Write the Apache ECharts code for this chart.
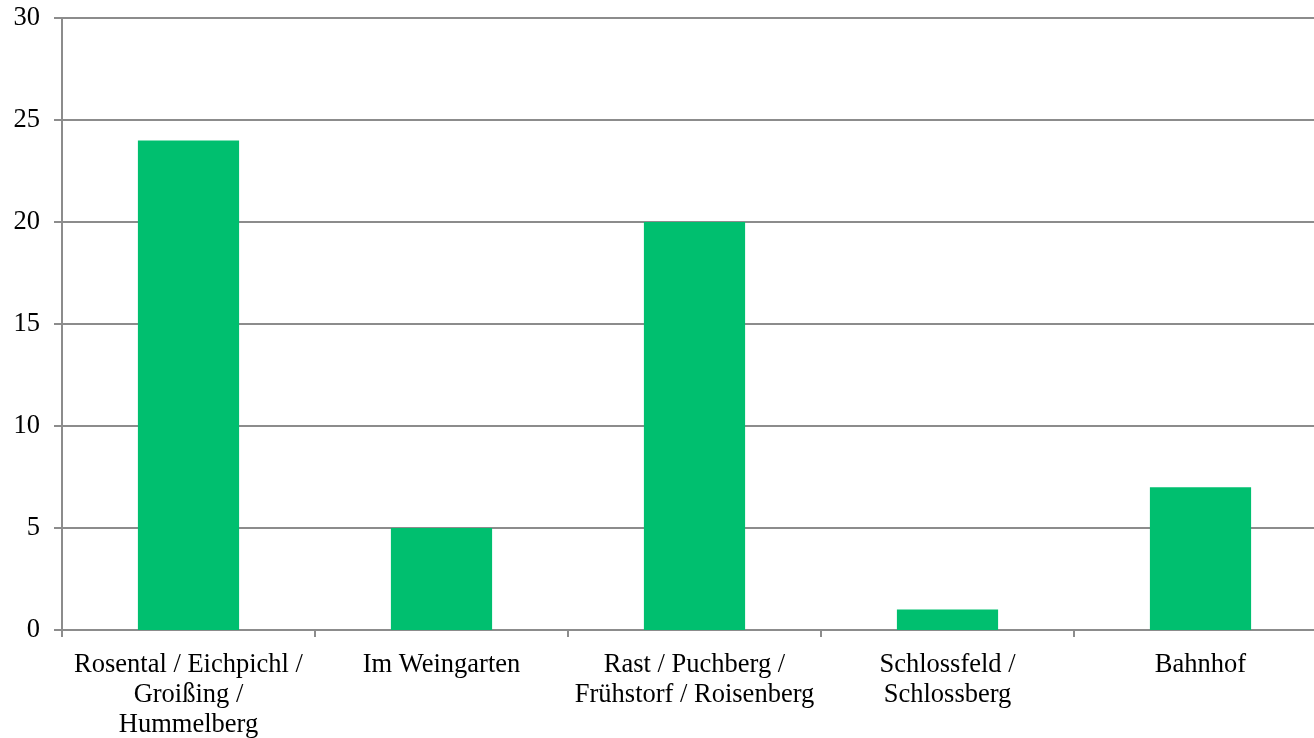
<!DOCTYPE html>
<html>
<head>
<meta charset="utf-8">
<script src="https://cdn.jsdelivr.net/npm/echarts@6/dist/echarts.min.js"></script>
<style>
html, body { margin: 0; padding: 0; background: #fff; overflow: hidden; }
#chart { width: 1340px; height: 738px; }
</style>
</head>
<body>
<div id="chart"></div>
<script>
// Locations and their counts
const categories = [
  'Rosental / Eichpichl /\nGroißing /\nHummelberg',
  'Im Weingarten',
  'Rast / Puchberg /\nFrühstorf / Roisenberg',
  'Schlossfeld /\nSchlossberg',
  'Bahnhof'
];
const values = [24, 5, 20, 1, 7];
const yTicks = { min: 0, max: 30, interval: 5 };

const axisGray = '#8c8c8c';
const font = '"Liberation Serif", "DejaVu Serif", serif';

const chart = echarts.init(document.getElementById('chart'));
chart.setOption({
  animation: false,
  backgroundColor: '#ffffff',
  // plot area runs a little past the right edge of the page
  grid: { left: 62, right: 13, top: 18, bottom: 108, containLabel: false, outerBoundsMode: 'none' },
  xAxis: {
    type: 'category',
    data: categories,
    axisLine: { show: true, lineStyle: { color: axisGray, width: 2 } },
    axisTick: { show: true, alignWithLabel: false, length: 7, lineStyle: { color: axisGray, width: 2 } },
    axisLabel: {
      interval: 0,
      margin: 20,
      color: '#000',
      fontFamily: font,
      fontSize: 26.5,
      lineHeight: 30
    },
    splitLine: { show: false }
  },
  yAxis: {
    type: 'value',
    min: yTicks.min,
    max: yTicks.max,
    interval: yTicks.interval,
    axisLine: { show: true, lineStyle: { color: axisGray, width: 2 } },
    axisTick: { show: true, length: 8, lineStyle: { color: axisGray, width: 2 } },
    axisLabel: { color: '#000', fontFamily: font, fontSize: 26.5, margin: 22 },
    splitLine: { show: true, lineStyle: { color: axisGray, width: 2 } }
  },
  series: [{
    type: 'bar',
    data: values,
    barWidth: '40%',
    itemStyle: { color: '#00bf6f' }
  }]
});
</script>
</body>
</html>
